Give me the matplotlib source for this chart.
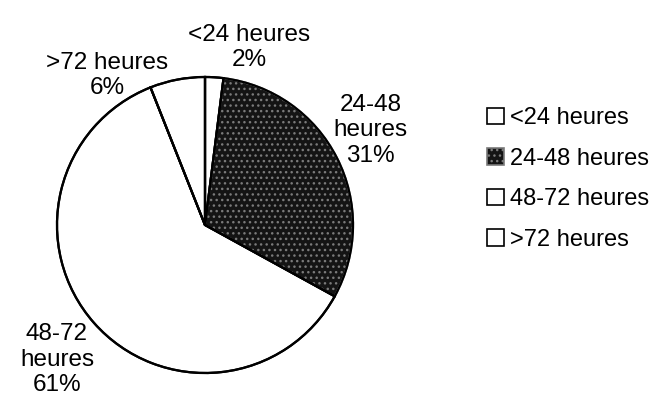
import matplotlib
matplotlib.use('Agg')
import matplotlib.pyplot as plt
from matplotlib.patches import Patch

plt.rcParams['font.family'] = ['Liberation Sans', 'DejaVu Sans']
plt.rcParams['hatch.linewidth'] = 1.0

labels = ['<24 heures', '24-48 heures', '48-72 heures', '>72 heures']
values = [2, 31, 61, 6]
pie_labels = ['<24 heures\n2%', '24-48\nheures\n31%', '48-72\nheures\n61%', '>72 heures\n6%']
colors = ['white', '#141414', 'white', 'white']

fig = plt.figure(figsize=(6.63, 4.05), dpi=100)
ax = fig.add_axes([57 / 663, 32 / 405, 296 / 663, 296 / 405])

wedges, _ = ax.pie(values, colors=colors, startangle=90, counterclock=False,
                   radius=1.0,
                   wedgeprops=dict(edgecolor='black', linewidth=1.6))
wedges[1].set_hatch('...')
wedges[1].set_edgecolor('#7a7a7a')
# outline of all wedges in black
ax.pie(values, colors=['none'] * 4, startangle=90, counterclock=False,
       radius=1.0, wedgeprops=dict(edgecolor='black', linewidth=1.6, fill=False))

label_pos = [(0.30, 1.20), (1.12, 0.64), (-1.0, -0.91), (-0.66, 1.01)]
for txt, (x, y) in zip(pie_labels, label_pos):
    ax.text(x, y, txt, ha='center', va='center', fontsize=17.5,
            linespacing=1.22, clip_on=False)

ax.set_xlim(-1, 1)
ax.set_ylim(-1, 1)
ax.set_aspect('equal')
ax.axis('off')

handles = []
for i, c in enumerate(colors):
    if i == 1:
        p = Patch(facecolor=c, edgecolor='#7a7a7a', hatch='...', linewidth=1.2)
    else:
        p = Patch(facecolor=c, edgecolor='black', linewidth=1.2)
    handles.append(p)

leg = fig.legend(handles, labels, loc='center left', bbox_to_anchor=(478 / 663, 1 - 179 / 405),
                 frameon=False, fontsize=17, handlelength=0.7, handleheight=0.7,
                 handletextpad=0.25, labelspacing=0.78, borderaxespad=0)

fig.savefig('out.png', dpi=100)
